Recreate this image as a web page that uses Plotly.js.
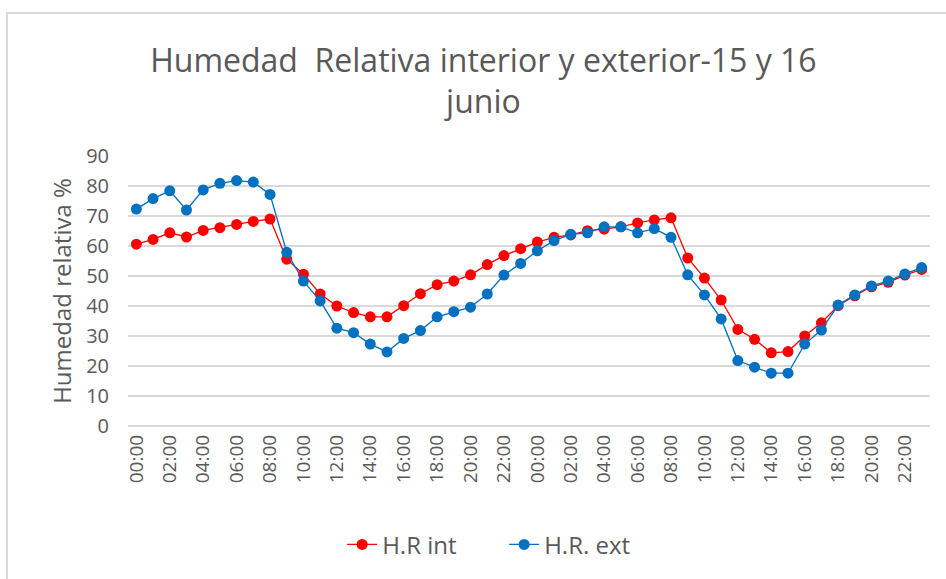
<!DOCTYPE html>
<html>
<head>
<meta charset="utf-8">
<script src="https://cdn.plot.ly/plotly-3.0.1.min.js"></script>
<style>html,body{margin:0;padding:0;background:#fff;}#chart{width:946px;height:579px;}</style>
</head>
<body>
<div id="chart"></div>
<script>
const hourLabels = [
  "00:00","01:00","02:00","03:00","04:00","05:00","06:00","07:00","08:00","09:00","10:00","11:00",
  "12:00","13:00","14:00","15:00","16:00","17:00","18:00","19:00","20:00","21:00","22:00","23:00",
  "00:00","01:00","02:00","03:00","04:00","05:00","06:00","07:00","08:00","09:00","10:00","11:00",
  "12:00","13:00","14:00","15:00","16:00","17:00","18:00","19:00","20:00","21:00","22:00","23:00"
];
const hrInt = [
  60.6, 62.2, 64.4, 63.0, 65.2, 66.1, 67.2, 68.2, 69.0, 55.6, 50.6, 44.0,
  40.0, 37.8, 36.4, 36.4, 40.1, 44.1, 47.1, 48.3, 50.4, 53.8, 56.8, 59.1,
  61.3, 62.9, 63.7, 65.1, 65.6, 66.4, 67.7, 68.7, 69.4, 56.0, 49.3, 42.0,
  32.2, 28.9, 24.4, 24.8, 30.0, 34.4, 40.1, 43.4, 46.4, 47.9, 50.3, 52.2
];
const hrExt = [
  72.3, 75.8, 78.4, 72.0, 78.7, 80.9, 81.8, 81.3, 77.2, 57.9, 48.3, 41.7,
  32.6, 31.1, 27.3, 24.7, 29.2, 31.8, 36.4, 38.1, 39.6, 44.0, 50.3, 54.2,
  58.4, 61.8, 63.9, 64.4, 66.4, 66.4, 64.4, 65.8, 62.9, 50.4, 43.7, 35.7,
  21.8, 19.6, 17.6, 17.6, 27.3, 32.0, 40.3, 43.7, 46.7, 48.3, 50.7, 52.8
];
const seriesNames = ["H.R int", "H.R. ext"];
const titleText = "Humedad  Relativa interior y exterior-15 y 16<br>junio";
const yTitle = "Humedad relativa %";

const xIdx = hourLabels.map((_, i) => i);
const tickIdx = xIdx.filter(i => i % 2 === 0);
const tickTxt = tickIdx.map(i => hourLabels[i]);

const font = "'Open Sans', 'Noto Sans', sans-serif";
const grey = "#595959";

const traces = [
  {x: xIdx, y: hrInt, name: seriesNames[0], type: "scatter", mode: "lines+markers",
   line: {color: "#FF0000", width: 1.3}, marker: {color: "#FF0000", size: 11}},
  {x: xIdx, y: hrExt, name: seriesNames[1], type: "scatter", mode: "lines+markers",
   line: {color: "#0070C0", width: 1.3}, marker: {color: "#0070C0", size: 11}}
];

const layout = {
  width: 946, height: 579,
  paper_bgcolor: "#fff", plot_bgcolor: "#fff",
  margin: {l: 128, r: 16, t: 156, b: 153},
  font: {family: font, color: grey, size: 18},
  title: {text: titleText, font: {family: font, size: 32, color: grey},
          x: 0.511, xanchor: "center", y: 0.876, yanchor: "top"},
  showlegend: true,
  legend: {orientation: "h", x: 0.267, xanchor: "left", y: -0.44, yanchor: "middle",
           entrywidth: 117, entrywidthmode: "pixels",
           font: {family: font, size: 24, color: grey}, traceorder: "normal"},
  xaxis: {
    range: [-0.5, 47.5], tickmode: "array", tickvals: tickIdx, ticktext: tickTxt,
    tickangle: -90, tickfont: {family: font, size: 19, color: grey},
    showgrid: false, zeroline: false, showline: false, ticks: "", fixedrange: true,
    ticklabelstandoff: 4
  },
  yaxis: {
    range: [0, 90], dtick: 10, tickfont: {family: font, size: 20, color: grey},
    gridcolor: "#d9d9d9", gridwidth: 1.5, zeroline: true, zerolinecolor: "#d9d9d9", zerolinewidth: 1.5,
    showline: false, ticks: "", ticklabelstandoff: 18,
    title: {text: yTitle, font: {family: font, size: 24, color: grey}, standoff: 7}
  },
  shapes: [
    {type: "rect", xref: "paper", yref: "paper", x0: -0.1509, x1: 1.2, y0: -1.2, y1: 1.5296,
     line: {color: "#d9d9d9", width: 2}, fillcolor: "rgba(0,0,0,0)", layer: "below"}
  ]
};

Plotly.newPlot("chart", traces, layout, {displayModeBar: false, staticPlot: true});
</script>
</body>
</html>
